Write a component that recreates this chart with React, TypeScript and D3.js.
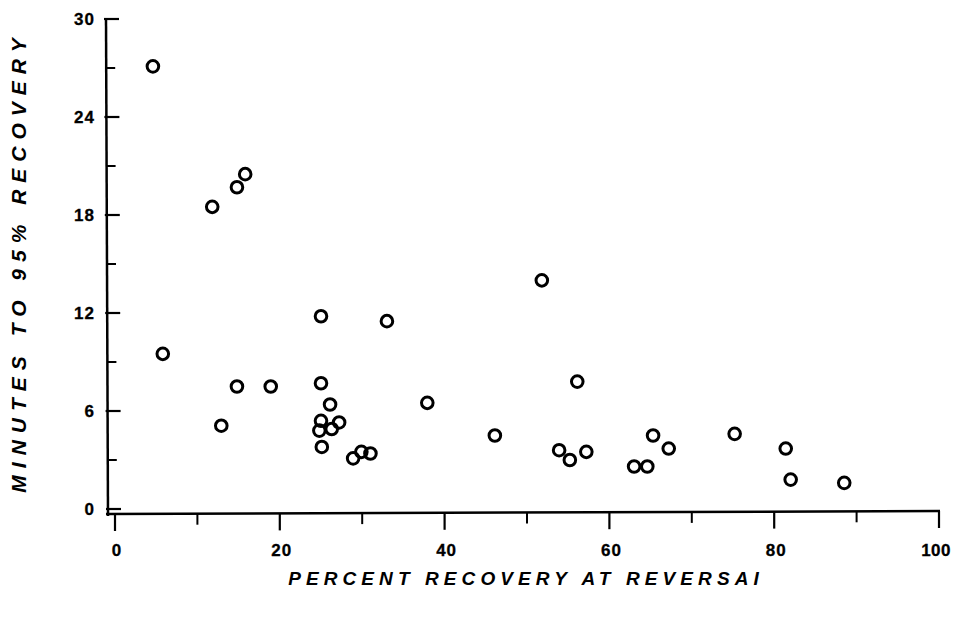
import React, { useEffect, useRef } from "react";
import * as d3 from "d3";

// percent recovery at reversal (x) and minutes to 95% recovery (y)
const pctRecovery = [
  4.6, 11.8, 14.8, 15.8, 5.8, 12.9, 14.8, 18.9, 25.0, 33.0, 25.0, 26.1,
  25.0, 24.8, 27.2, 26.3, 25.1, 28.9, 29.9, 31.0, 37.9, 46.1, 51.8, 56.1,
  53.9, 55.2, 57.2, 63.0, 64.6, 65.3, 67.2, 75.2, 81.4, 82.0, 88.5,
];
const minutesTo95 = [
  27.1, 18.5, 19.7, 20.5, 9.5, 5.1, 7.5, 7.5, 11.8, 11.5, 7.7, 6.4,
  5.4, 4.8, 5.3, 4.9, 3.8, 3.1, 3.5, 3.4, 6.5, 4.5, 14.0, 7.8,
  3.6, 3.0, 3.5, 2.6, 2.6, 4.5, 3.7, 4.6, 3.7, 1.8, 1.6,
];
const xMajorTicks = [0, 20, 40, 60, 80, 100];
const xMinorTicks = [10, 30, 50, 70, 90];
const yMajorTicks = [0, 6, 12, 18, 24, 30];
const yMinorTicks = [3, 9, 15, 21, 27];

const W = 953;
const H = 617;

export default function App() {
  const ref = useRef<SVGSVGElement>(null);

  useEffect(() => {
    const svg = d3.select(ref.current);
    svg.selectAll("*").remove();

    const x = d3.scaleLinear().domain([0, 100]).range([115, 939]);
    const y = d3.scaleLinear().domain([0, 30]).range([509, 19]);
    const axisX = 106;
    const axisY = 514;
    const font = "'Liberation Sans', Arial, sans-serif";

    // y axis line
    svg.append("line")
      .attr("x1", axisX).attr("x2", axisX + 2)
      .attr("y1", y(30) - 1).attr("y2", axisY + 2)
      .attr("stroke", "#000").attr("stroke-width", 2.5);

    // y ticks
    svg.selectAll(".ymaj").data(yMajorTicks).join("line")
      .attr("x1", (d) => axisX + 2 - 2 * d / 30 - 2)
      .attr("x2", (d) => axisX + 2 - 2 * d / 30 + 13)
      .attr("y1", (d) => y(d)).attr("y2", (d) => y(d))
      .attr("stroke", "#000").attr("stroke-width", 2.2);
    svg.selectAll(".ymin").data(yMinorTicks).join("line")
      .attr("x1", (d) => axisX + 2 - 2 * d / 30)
      .attr("x2", (d) => axisX + 2 - 2 * d / 30 + 9)
      .attr("y1", (d) => y(d)).attr("y2", (d) => y(d))
      .attr("stroke", "#000").attr("stroke-width", 2);
    svg.selectAll(".ylab").data(yMajorTicks).join("text")
      .attr("x", 95).attr("y", (d) => y(d) + 6)
      .attr("text-anchor", "end")
      .attr("font-family", font).attr("font-size", 17).attr("font-weight", "bold")
      .attr("letter-spacing", 1)
      .attr("stroke", "#000").attr("stroke-width", 0.3)
      .text((d) => d);

    // x axis line
    svg.append("line")
      .attr("x1", axisX).attr("x2", x(100) + 1)
      .attr("y1", axisY).attr("y2", axisY - 3)
      .attr("stroke", "#000").attr("stroke-width", 2.5);

    svg.selectAll(".xmaj").data(xMajorTicks).join("line")
      .attr("x1", (d) => x(d)).attr("x2", (d) => x(d))
      .attr("y1", (d) => axisY - 3 * d / 100).attr("y2", (d) => axisY - 3 * d / 100 + 17)
      .attr("stroke", "#000").attr("stroke-width", 2.2);
    svg.selectAll(".xmin").data(xMinorTicks).join("line")
      .attr("x1", (d) => x(d)).attr("x2", (d) => x(d))
      .attr("y1", (d) => axisY - 3 * d / 100).attr("y2", (d) => axisY - 3 * d / 100 + 11)
      .attr("stroke", "#000").attr("stroke-width", 2);
    svg.selectAll(".xlab").data(xMajorTicks).join("text")
      .attr("x", (d) => (d === 100 ? 951 : x(d) + 2)).attr("y", 556)
      .attr("text-anchor", (d) => (d === 100 ? "end" : "middle"))
      .attr("font-family", font).attr("font-size", 17).attr("font-weight", "bold")
      .attr("letter-spacing", (d) => (d === 100 ? 0.5 : 1))
      .attr("stroke", "#000").attr("stroke-width", 0.3)
      .text((d) => d);

    // axis titles
    svg.append("text")
      .attr("x", 526).attr("y", 585)
      .attr("text-anchor", "middle")
      .attr("font-family", font).attr("font-size", 19).attr("font-weight", "bold")
      .attr("font-style", "italic").attr("letter-spacing", 5.1)
      .text("PERCENT RECOVERY AT REVERSAI");
    svg.append("text")
      .attr("transform", "translate(26,262) rotate(-90)")
      .attr("text-anchor", "middle")
      .attr("font-family", font).attr("font-size", 21).attr("font-weight", "bold")
      .attr("font-style", "italic").attr("letter-spacing", 7)
      .text("MINUTES TO 95% RECOVERY");

    // points
    const pts = pctRecovery.map((v, i) => [v, minutesTo95[i]]);
    svg.selectAll(".pt").data(pts).join("circle")
      .attr("cx", (d) => x(d[0])).attr("cy", (d) => y(d[1]))
      .attr("r", 5.8)
      .attr("fill", "none").attr("stroke", "#000").attr("stroke-width", 3);
  }, []);

  return (
    <svg
      ref={ref}
      width={W}
      height={H}
      style={{ position: "absolute", left: 0, top: 0, background: "#fff" }}
    />
  );
}
